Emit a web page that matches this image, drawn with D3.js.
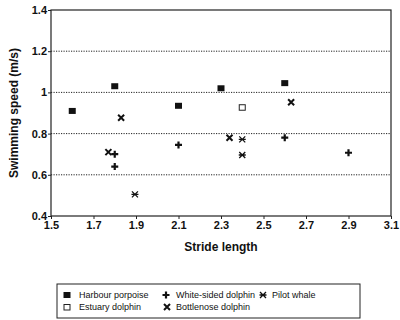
<!DOCTYPE html>
<html><head><meta charset="utf-8">
<script src="https://cdn.jsdelivr.net/npm/d3@7"></script>
<style>body{margin:0;background:#fff}svg{display:block}text{font-family:"Liberation Sans",Arial,sans-serif;fill:#111}</style>
</head><body><svg id="c" width="400" height="320"></svg>
<script>
const harbourX=[1.60,1.80,2.10,2.30,2.60];
const harbourY=[0.91,1.03,0.935,1.02,1.045];
const estuaryX=[2.40];
const estuaryY=[0.928];
const whiteX=[1.80,1.80,2.10,2.60,2.90];
const whiteY=[0.70,0.64,0.745,0.78,0.707];
const bottleX=[1.83,1.77,2.34,2.63];
const bottleY=[0.877,0.71,0.78,0.952];
const pilotX=[2.40,2.40,1.895];
const pilotY=[0.772,0.696,0.505];
const xTicks=[1.5,1.7,1.9,2.1,2.3,2.5,2.7,2.9,3.1];
const yTicks=[0.4,0.6,0.8,1,1.2,1.4];
const seriesNames=["Harbour porpoise","White-sided dolphin","Pilot whale","Estuary dolphin","Bottlenose dolphin"];

const svg=d3.select("#c");
const x=d3.scaleLinear().domain([1.5,3.1]).range([51,391]);
const y=d3.scaleLinear().domain([0.4,1.4]).range([216,10]);

// gridlines
svg.append("g").selectAll("line").data(yTicks.filter(v=>v>0.4&&v<1.4)).join("line")
 .attr("x1",x(1.5)).attr("x2",x(3.1)).attr("y1",d=>y(d)).attr("y2",d=>y(d))
 .attr("stroke","#222").attr("stroke-width",1).attr("stroke-dasharray","1.2,1.3");
// frame
svg.append("rect").attr("x",x(1.5)).attr("y",y(1.4)).attr("width",x(3.1)-x(1.5)).attr("height",y(0.4)-y(1.4))
 .attr("fill","none").attr("stroke","#222").attr("stroke-width",1.2);

const xa=svg.append("g").attr("transform",`translate(0,${y(0.4)})`)
 .call(d3.axisBottom(x).tickValues(xTicks).tickFormat(d3.format("")).tickSize(3).tickPadding(2));
const ya=svg.append("g").attr("transform",`translate(${x(1.5)},0)`)
 .call(d3.axisLeft(y).tickValues(yTicks).tickFormat(d=>d3.format("")(d)).tickSize(3).tickPadding(1));
[xa,ya].forEach(a=>{a.select(".domain").remove();a.selectAll("line").attr("stroke","#222");
 a.selectAll("text").attr("font-size",11).attr("font-weight","bold").style("fill","#111");});

svg.append("text").attr("x",221).attr("y",251).attr("text-anchor","middle")
 .attr("font-size",12).attr("font-weight","bold").text("Stride length");
svg.append("text").attr("transform","translate(18,113) rotate(-90)").attr("text-anchor","middle")
 .attr("font-size",12).attr("font-weight","bold").text("Swimming speed (m/s)");

function sym(g,type){
 if(type===0) g.append("rect").attr("x",-3.5).attr("y",-3).attr("width",7).attr("height",6).attr("fill","#111");
 else if(type===3) g.append("rect").attr("x",-3).attr("y",-2.5).attr("width",6).attr("height",5.5).attr("fill","#fff").attr("stroke","#222").attr("stroke-width",1);
 else if(type===1) g.append("path").attr("d","M-3.5,0H3.5M0,-3.5V3.5").attr("stroke","#111").attr("stroke-width",2.2);
 else if(type===4) g.append("path").attr("d","M-3,-3L3,3M-3,3L3,-3").attr("stroke","#111").attr("stroke-width",2);
 else g.append("path").attr("d","M-3,-3L3,3M-3,3L3,-3M-3.5,0H3.5").attr("stroke","#111").attr("stroke-width",1.3);
}
const series=[[harbourX,harbourY,0],[estuaryX,estuaryY,3],[whiteX,whiteY,1],[bottleX,bottleY,4],[pilotX,pilotY,2]];
series.forEach(([xs,ys,t])=>{
 xs.forEach((v,i)=>{const g=svg.append("g").attr("transform",`translate(${x(v)},${y(ys[i])})`);sym(g,t);});
});

// legend
svg.append("rect").attr("x",57).attr("y",284).attr("width",303).attr("height",34)
 .attr("fill","none").attr("stroke","#222").attr("stroke-width",1);
const leg=[[0,67,79,295],[1,166,176,295],[2,263,272,295],[3,67,79,307],[4,167,176,307]];
const types=[0,1,2,3,4];
leg.forEach(([i,sx,tx,ty])=>{
 const g=svg.append("g").attr("transform",`translate(${sx},${ty})`);sym(g,types[i]);
 svg.append("text").attr("x",tx).attr("y",ty+3).attr("font-size",9).text(seriesNames[i]);
});
</script></body></html>
